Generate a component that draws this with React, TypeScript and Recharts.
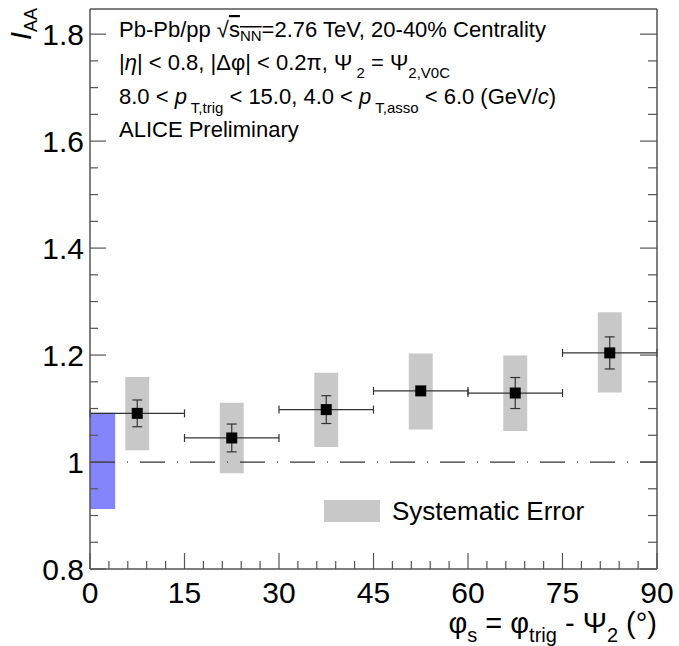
import {
  ComposedChart,
  Scatter,
  ErrorBar,
  XAxis,
  YAxis,
  ReferenceArea,
  ReferenceLine,
  Legend,
} from "recharts";

const FONT = '"Liberation Sans", Arial, Helvetica, sans-serif';

// phi_s bin centres and half widths (degrees)
const PHI_S = [7.5, 22.5, 37.5, 52.5, 67.5, 82.5];
const PHI_HALF_BIN = [7.5, 7.5, 7.5, 7.5, 7.5, 7.5];
// I_AA with statistical errors
const IAA = [1.091, 1.045, 1.098, 1.133, 1.129, 1.204];
const STAT_ERR = [0.025, 0.026, 0.026, 0.005, 0.029, 0.03];
// systematic error band limits
const SYS_LOW = [1.022, 0.979, 1.028, 1.061, 1.058, 1.13];
const SYS_HIGH = [1.159, 1.111, 1.167, 1.203, 1.199, 1.28];
const SYS_HALF_WIDTH = 1.9;
// normalisation uncertainty box
const NORM_X = [0, 4];
const NORM_Y = [0.912, 1.092];

const X_DOMAIN = [0, 90];
const Y_DOMAIN = [0.8, 1.847];
const X_TICKS = [0, 3, 6, 9, 12, 15, 18, 21, 24, 27, 30, 33, 36, 39, 42, 45, 48, 51, 54, 57, 60, 63, 66, 69, 72, 75, 78, 81, 84, 87, 90];
const Y_TICKS = [0.8, 0.85, 0.9, 0.95, 1.0, 1.05, 1.1, 1.15, 1.2, 1.25, 1.3, 1.35, 1.4, 1.45, 1.5, 1.55, 1.6, 1.65, 1.7, 1.75, 1.8];

const AXIS_COLOR = "#555";

const points = PHI_S.map((x, i) => ({ x, y: IAA[i], ex: PHI_HALF_BIN[i], ey: STAT_ERR[i] }));

type Seg = { t: string; sub?: boolean; it?: boolean; over?: boolean };

function richSpans(segs: Seg[], size: number, subSize: number, drop: number) {
  let shift = 0;
  return segs.map((s, i) => {
    const target = s.sub ? drop : 0;
    const dy = target - shift;
    shift = target;
    return (
      <tspan
        key={i}
        dy={dy}
        fontSize={s.sub ? subSize : size}
        fontStyle={s.it ? "italic" : undefined}
        textDecoration={s.over ? "overline" : undefined}
      >
        {s.t}
      </tspan>
    );
  });
}

const LINE1: Seg[] = [
  { t: "Pb-Pb/pp \u221A" },
  { t: "s", over: true },
  { t: "NN", sub: true, over: true },
  { t: "=2.76 TeV, 20-40% Centrality" },
];
const LINE2: Seg[] = [
  { t: "|" },
  { t: "\u03B7", it: true },
  { t: "| < 0.8, |\u0394\u03C6| < 0.2\u03C0, \u03A8" },
  { t: " 2", sub: true },
  { t: " = \u03A8" },
  { t: "2,V0C", sub: true },
];
const LINE3: Seg[] = [
  { t: "8.0 < " },
  { t: "p", it: true },
  { t: " T,trig", sub: true },
  { t: " < 15.0, 4.0 < " },
  { t: "p", it: true },
  { t: " T,asso", sub: true },
  { t: " < 6.0 (GeV/" },
  { t: "c", it: true },
  { t: ")" },
];
const LINE4: Seg[] = [{ t: "ALICE Preliminary" }];
const X_TITLE: Seg[] = [
  { t: "\u03C6" },
  { t: "s", sub: true },
  { t: " = \u03C6" },
  { t: "trig", sub: true },
  { t: " - \u03A8" },
  { t: "2", sub: true },
  { t: " (\u00B0)" },
];
const Y_TITLE: Seg[] = [{ t: "I", it: true }, { t: "AA", sub: true }];

const XTick = (props: any) => {
  const { x, y, payload } = props;
  const v = payload.value;
  const major = Math.abs(v / 15 - Math.round(v / 15)) < 1e-6;
  return (
    <g>
      <line x1={x} x2={x} y1={y} y2={y - (major ? 16 : 8)} stroke={AXIS_COLOR} strokeWidth={1.2} />
      {major && (
        <text x={x} y={y + 34} textAnchor="middle" fontSize={30} fontFamily={FONT} fill="#000">
          {v}
        </text>
      )}
    </g>
  );
};

const isMajorY = (v: number) => Math.round(v * 100) % 20 === 0;

const YTickLeft = (props: any) => {
  const { x, y, payload } = props;
  const v = payload.value;
  const major = isMajorY(v);
  return (
    <g>
      <line x1={x} x2={x + (major ? 16 : 8)} y1={y} y2={y} stroke={AXIS_COLOR} strokeWidth={1.2} />
      {major && (
        <text x={x - 6} y={y + 11} textAnchor="end" fontSize={30} fontFamily={FONT} fill="#000">
          {String(Math.round(v * 10) / 10)}
        </text>
      )}
    </g>
  );
};

const YTickRight = (props: any) => {
  const { x, y, payload } = props;
  const major = isMajorY(payload.value);
  return <line x1={x} x2={x - (major ? 17 : 9)} y1={y} y2={y} stroke={AXIS_COLOR} strokeWidth={1.2} />;
};

const SquareMarker = (props: any) => {
  const { cx, cy } = props;
  return <rect x={cx - 5.5} y={cy - 5.5} width={11} height={11} fill="#000" />;
};

const SysLegend = () => (
  <div style={{ display: "flex", alignItems: "center", fontFamily: FONT }}>
    <div style={{ width: 56, height: 22, background: "#c8c8c8" }} />
    <span style={{ marginLeft: 12, fontSize: 26, lineHeight: "30px", color: "#000", whiteSpace: "nowrap" }}>
      Systematic Error
    </span>
  </div>
);

export default function App() {
  return (
    <div style={{ position: "absolute", left: 0, top: 0, width: 679, height: 646, background: "#fff" }}>
      <ComposedChart width={679} height={646} margin={{ top: 9, right: 0, bottom: 0, left: 0 }}>
        <XAxis
          type="number"
          dataKey="x"
          domain={X_DOMAIN}
          ticks={X_TICKS}
          interval={0}
          allowDataOverflow
          height={77}
          tickSize={0}
          tickMargin={0}
          tickLine={false}
          axisLine={{ stroke: AXIS_COLOR, strokeWidth: 1.5 }}
          tick={<XTick />}
        />
        <YAxis
          yAxisId="left"
          type="number"
          dataKey="y"
          domain={Y_DOMAIN}
          ticks={Y_TICKS}
          interval={0}
          allowDataOverflow
          width={90}
          tickSize={0}
          tickMargin={0}
          tickLine={false}
          axisLine={{ stroke: AXIS_COLOR, strokeWidth: 1.5 }}
          tick={<YTickLeft />}
        />
        <YAxis
          yAxisId="right"
          orientation="right"
          type="number"
          domain={Y_DOMAIN}
          ticks={Y_TICKS}
          interval={0}
          allowDataOverflow
          width={22}
          tickSize={0}
          tickMargin={0}
          tickLine={false}
          axisLine={{ stroke: AXIS_COLOR, strokeWidth: 1.5 }}
          tick={<YTickRight />}
        />
        <ReferenceLine yAxisId="left" y={Y_DOMAIN[1]} stroke={AXIS_COLOR} strokeWidth={1.5} />
        {PHI_S.map((x, i) => (
          <ReferenceArea
            key={i}
            yAxisId="left"
            x1={x - SYS_HALF_WIDTH}
            x2={x + SYS_HALF_WIDTH}
            y1={SYS_LOW[i]}
            y2={SYS_HIGH[i]}
            fill="#c8c8c8"
            fillOpacity={1}
            stroke="none"
          />
        ))}
        <ReferenceArea
          yAxisId="left"
          x1={NORM_X[0]}
          x2={NORM_X[1]}
          y1={NORM_Y[0]}
          y2={NORM_Y[1]}
          fill="#8585fb"
          fillOpacity={1}
          stroke="none"
        />
        <ReferenceLine yAxisId="left" y={1} stroke="#333" strokeWidth={1.2} strokeDasharray="25 12 1 12" />
        <Scatter yAxisId="left" data={points} dataKey="y" shape={<SquareMarker />} isAnimationActive={false}>
          <ErrorBar dataKey="ex" direction="x" width={4} stroke="#333" strokeWidth={1.2} isAnimationActive={false} />
          <ErrorBar dataKey="ey" direction="y" width={5} stroke="#333" strokeWidth={1.2} isAnimationActive={false} />
        </Scatter>
        <Legend
          layout="horizontal"
          verticalAlign="middle"
          align="center"
          content={<SysLegend />}
          wrapperStyle={{ left: 324, top: 496, width: "auto" }}
        />
        <g fontFamily={FONT} fill="#000" style={{ whiteSpace: "pre" }}>
          <text x={119} y={37}>{richSpans(LINE1, 22, 15, 4)}</text>
          <text x={119} y={70}>{richSpans(LINE2, 22, 15, 8)}</text>
          <text x={119} y={104}>{richSpans(LINE3, 22, 15, 9)}</text>
          <text x={119} y={137}>{richSpans(LINE4, 22, 15, 0)}</text>
          <text x={657} y={633} textAnchor="end">{richSpans(X_TITLE, 29, 20, 9)}</text>
          <text x={31} y={8} textAnchor="end" transform="rotate(-90, 31, 8)">
            {richSpans(Y_TITLE, 30, 18, 6)}
          </text>
        </g>
      </ComposedChart>
    </div>
  );
}
